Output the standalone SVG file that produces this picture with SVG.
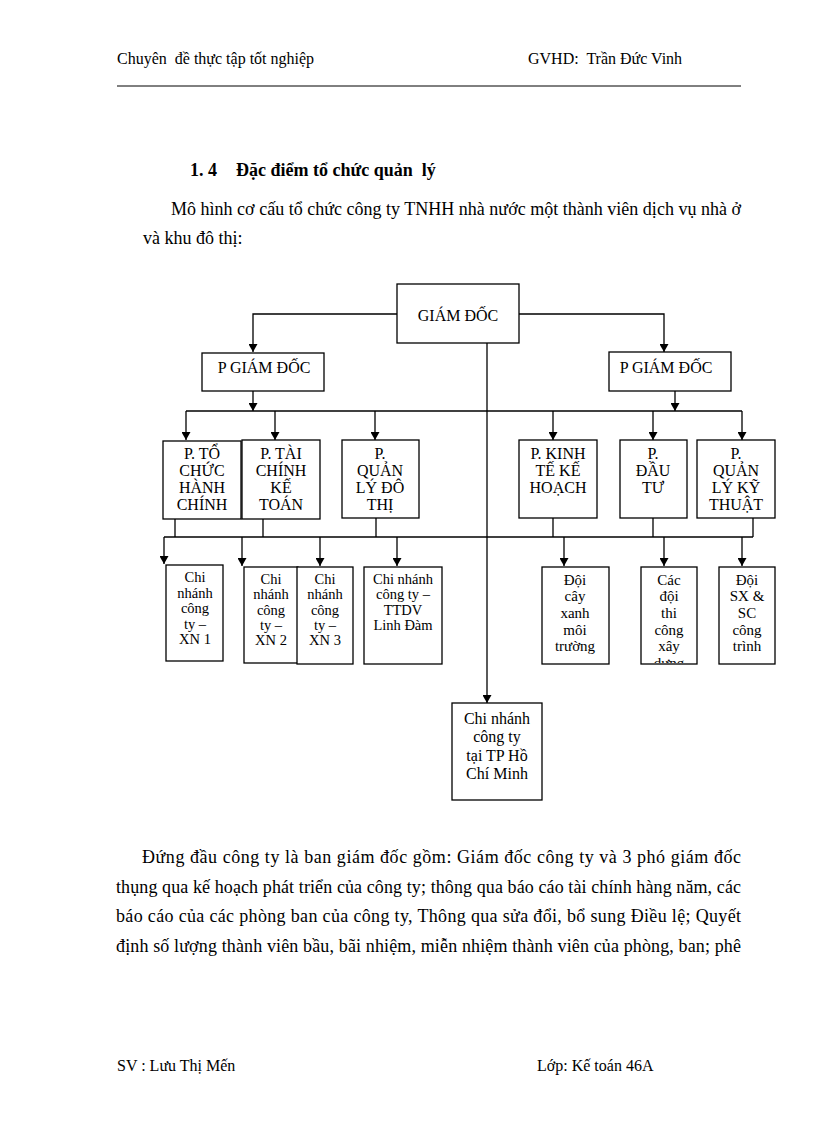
<svg xmlns="http://www.w3.org/2000/svg" width="816" height="1123" viewBox="0 0 816 1123">
<defs>
<marker id="ah" markerWidth="8" markerHeight="9" refX="8" refY="4.5" orient="auto" markerUnits="userSpaceOnUse" viewBox="0 0 8 9">
<path d="M0,0 L8,4.5 L0,9 Z" fill="#000"/>
</marker>
<clipPath id="clipCac"><rect x="641" y="567" width="57" height="96"/></clipPath>
<style>
text{font-family:"Liberation Serif","Times New Roman",serif;fill:#000}
.hdr{font-size:16px}
.body{font-size:18px}
.b2{font-size:16px;text-anchor:middle}
.b3{font-size:14.5px;text-anchor:middle}
.b3r{font-size:15px;text-anchor:middle}
.box{fill:#fff;stroke:#000;stroke-width:1.3}
.ln{fill:none;stroke:#000;stroke-width:1.3}
.ar{fill:none;stroke:#000;stroke-width:1.3;marker-end:url(#ah)}
</style>
</defs>
<rect width="816" height="1123" fill="#fff"/>

<g id="header">
<text class="hdr" x="117" y="64" xml:space="preserve">Chuyên  đề thực tập tốt nghiệp</text>
<text class="hdr" x="528" y="64" xml:space="preserve">GVHD:  Trần Đức Vinh</text>
<line x1="117" y1="86" x2="741" y2="86" stroke="#000" stroke-width="1"/>
</g>

<g id="intro">
<text class="body" x="190" y="176" font-weight="bold">1. 4</text>
<text class="body" x="236" y="176" font-weight="bold" xml:space="preserve">Đặc điểm tổ chức quản  lý</text>
<text class="body" x="171" y="215" textLength="570" lengthAdjust="spacing">Mô hình cơ cấu tổ chức công ty TNHH nhà nước một thành viên dịch vụ nhà ở</text>
<text class="body" x="143" y="244">và khu đô thị:</text>
</g>

<g id="connectors">
<polyline class="ar" points="397,314 253,314 253,352"/>
<polyline class="ar" points="519,314 664,314 664,352"/>
<line class="ar" x1="253" y1="391" x2="253" y2="411"/>
<line class="ar" x1="675" y1="391" x2="675" y2="411"/>
<line class="ln" x1="186" y1="411" x2="742" y2="411"/>
<line class="ar" x1="186" y1="411" x2="186" y2="440"/>
<line class="ar" x1="275" y1="411" x2="275" y2="440"/>
<line class="ar" x1="375" y1="411" x2="375" y2="440"/>
<line class="ar" x1="553" y1="411" x2="553" y2="440"/>
<line class="ar" x1="653" y1="411" x2="653" y2="440"/>
<line class="ar" x1="742" y1="411" x2="742" y2="440"/>
<line class="ar" x1="487" y1="343" x2="487" y2="703"/>
<line class="ln" x1="175" y1="519" x2="175" y2="537"/>
<line class="ln" x1="263" y1="519" x2="263" y2="537"/>
<line class="ln" x1="376" y1="518" x2="376" y2="537"/>
<line class="ln" x1="553" y1="518" x2="553" y2="537"/>
<line class="ln" x1="653" y1="518" x2="653" y2="537"/>
<line class="ln" x1="753" y1="518" x2="753" y2="537"/>
<line class="ln" x1="164" y1="537" x2="753" y2="537"/>
<line class="ar" x1="164" y1="537" x2="164" y2="564"/>
<line class="ar" x1="242" y1="537" x2="242" y2="566"/>
<line class="ar" x1="320" y1="537" x2="320" y2="566"/>
<line class="ar" x1="397" y1="537" x2="397" y2="566"/>
<line class="ar" x1="564" y1="537" x2="564" y2="566"/>
<line class="ar" x1="664" y1="537" x2="664" y2="566"/>
<line class="ar" x1="742" y1="537" x2="742" y2="566"/>
</g>

<g id="giam-doc">
<rect class="box" x="397" y="284" width="122" height="59"/>
<text class="b2" x="458" y="321">GIÁM ĐỐC</text>
</g>
<g id="p-giam-doc-1">
<rect class="box" x="202" y="353" width="122" height="38"/>
<text class="b2" x="264" y="373">P GIÁM ĐỐC</text>
</g>
<g id="p-giam-doc-2">
<rect class="box" x="609" y="352" width="122" height="39"/>
<text class="b2" x="666" y="373">P GIÁM ĐỐC</text>
</g>

<g id="p-to-chuc">
<rect class="box" x="163" y="441" width="78" height="78"/>
<text class="b2" x="202" y="459">P. TỔ</text>
<text class="b2" x="202" y="476">CHỨC</text>
<text class="b2" x="202" y="493">HÀNH</text>
<text class="b2" x="202" y="510">CHÍNH</text>
</g>
<g id="p-tai-chinh">
<rect class="box" x="242" y="440" width="78" height="79"/>
<text class="b2" x="281" y="459">P. TÀI</text>
<text class="b2" x="281" y="476">CHÍNH</text>
<text class="b2" x="281" y="493">KẾ</text>
<text class="b2" x="281" y="510">TOÁN</text>
</g>
<g id="p-quan-ly-do-thi">
<rect class="box" x="342" y="440" width="77" height="78"/>
<text class="b2" x="380" y="459">P.</text>
<text class="b2" x="380" y="476">QUẢN</text>
<text class="b2" x="380" y="493">LÝ ĐÔ</text>
<text class="b2" x="380" y="510">THỊ</text>
</g>
<g id="p-kinh-te">
<rect class="box" x="519" y="440" width="78" height="78"/>
<text class="b2" x="558" y="459">P. KINH</text>
<text class="b2" x="558" y="476">TẾ KẾ</text>
<text class="b2" x="558" y="493">HOẠCH</text>
</g>
<g id="p-dau-tu">
<rect class="box" x="620" y="440" width="67" height="78"/>
<text class="b2" x="653" y="459">P.</text>
<text class="b2" x="653" y="476">ĐẦU</text>
<text class="b2" x="653" y="493">TƯ</text>
</g>
<g id="p-quan-ly-ky-thuat">
<rect class="box" x="697" y="440" width="78" height="78"/>
<text class="b2" x="736" y="459">P.</text>
<text class="b2" x="736" y="476">QUẢN</text>
<text class="b2" x="736" y="493">LÝ KỸ</text>
<text class="b2" x="736" y="510">THUẬT</text>
</g>

<g id="xn1">
<rect class="box" x="166" y="565" width="57" height="96"/>
<text class="b3" x="195" y="582">Chi</text>
<text class="b3" x="195" y="598">nhánh</text>
<text class="b3" x="195" y="613">công</text>
<text class="b3" x="195" y="629">ty –</text>
<text class="b3" x="195" y="644">XN 1</text>
</g>
<g id="xn2">
<rect class="box" x="244" y="567" width="54" height="96"/>
<text class="b3" x="271" y="584">Chi</text>
<text class="b3" x="271" y="599">nhánh</text>
<text class="b3" x="271" y="615">công</text>
<text class="b3" x="271" y="630">ty –</text>
<text class="b3" x="271" y="645">XN 2</text>
</g>
<g id="xn3">
<rect class="box" x="297" y="567" width="56" height="97"/>
<text class="b3" x="325" y="584">Chi</text>
<text class="b3" x="325" y="599">nhánh</text>
<text class="b3" x="325" y="615">công</text>
<text class="b3" x="325" y="630">ty –</text>
<text class="b3" x="325" y="645">XN 3</text>
</g>
<g id="linh-dam">
<rect class="box" x="364" y="567" width="78" height="97"/>
<text class="b3" x="403" y="584">Chi nhánh</text>
<text class="b3" x="403" y="599">công ty –</text>
<text class="b3" x="403" y="615">TTDV</text>
<text class="b3" x="403" y="630">Linh Đàm</text>
</g>
<g id="doi-cay-xanh">
<rect class="box" x="542" y="567" width="67" height="97"/>
<text class="b3r" x="575" y="585">Đội</text>
<text class="b3r" x="575" y="601">cây</text>
<text class="b3r" x="575" y="618">xanh</text>
<text class="b3r" x="575" y="635">môi</text>
<text class="b3r" x="575" y="651">trường</text>
</g>
<g id="cac-doi-thi-cong">
<rect class="box" x="641" y="567" width="56" height="97"/>
<g clip-path="url(#clipCac)">
<text class="b3r" x="669" y="585">Các</text>
<text class="b3r" x="669" y="601">đội</text>
<text class="b3r" x="669" y="618">thi</text>
<text class="b3r" x="669" y="635">công</text>
<text class="b3r" x="669" y="651">xây</text>
<text class="b3r" x="669" y="668">dựng</text>
</g>
</g>
<g id="doi-sx-sc">
<rect class="box" x="719" y="567" width="56" height="97"/>
<text class="b3r" x="747" y="585">Đội</text>
<text class="b3r" x="747" y="601">SX &amp;</text>
<text class="b3r" x="747" y="618">SC</text>
<text class="b3r" x="747" y="635">công</text>
<text class="b3r" x="747" y="651">trình</text>
</g>
<g id="chi-nhanh-hcm">
<rect class="box" x="452" y="703" width="90" height="97"/>
<text class="b2" x="497" y="724">Chi nhánh</text>
<text class="b2" x="497" y="742">công ty</text>
<text class="b2" x="497" y="761">tại TP Hồ</text>
<text class="b2" x="497" y="779">Chí Minh</text>
</g>

<g id="body">
<text class="body" x="142" y="863" textLength="599" lengthAdjust="spacing">Đứng đầu công ty là ban giám đốc gồm: Giám đốc công ty và 3 phó giám đốc</text>
<text class="body" x="116" y="893" textLength="625" lengthAdjust="spacing">thụng qua kế hoạch phát triển của công ty; thông qua báo cáo tài chính hàng năm, các</text>
<text class="body" x="116" y="922" textLength="625" lengthAdjust="spacing">báo cáo của các phòng ban của công ty, Thông qua sửa đổi, bổ sung Điều lệ; Quyết</text>
<text class="body" x="116" y="952" textLength="625" lengthAdjust="spacing">định số lượng thành viên bầu, bãi nhiệm, miễn nhiệm thành viên của phòng, ban; phê</text>
</g>

<g id="footer">
<text class="hdr" x="117" y="1071">SV : Lưu Thị Mến</text>
<text class="hdr" x="537" y="1071">Lớp: Kế toán 46A</text>
</g>
</svg>
